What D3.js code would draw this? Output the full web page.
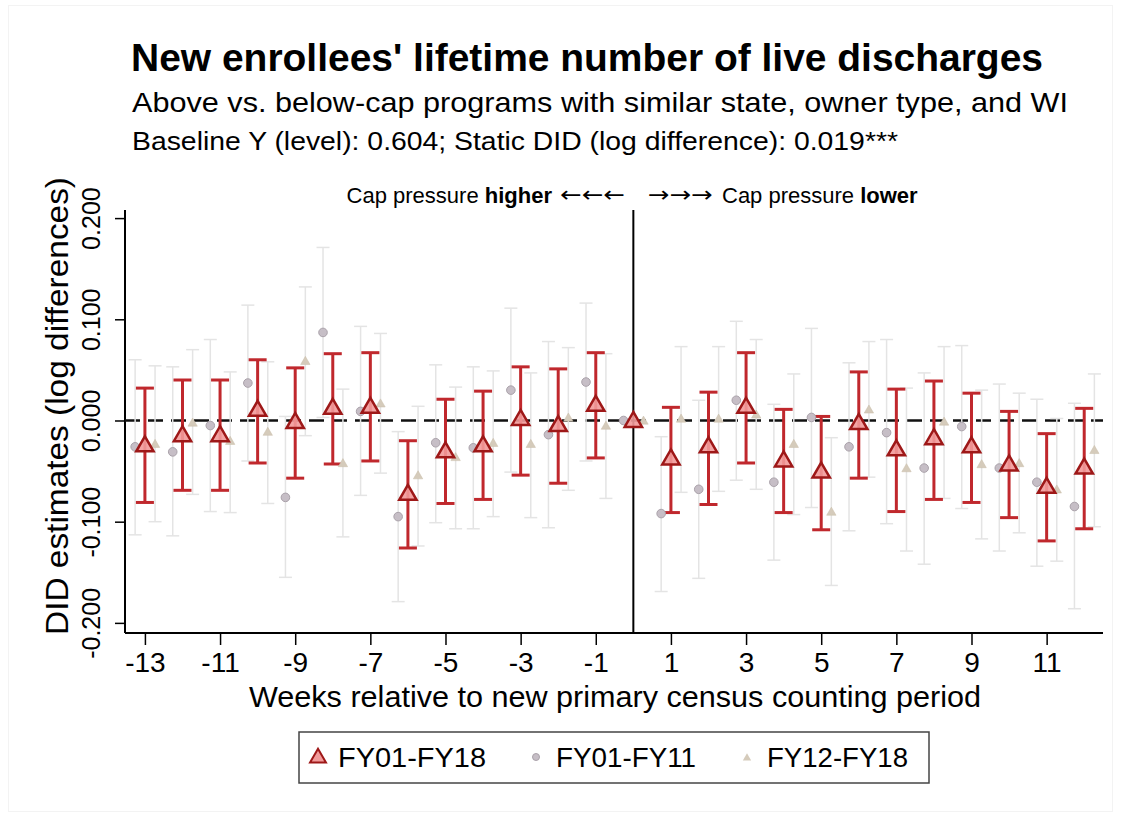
<!DOCTYPE html>
<html lang="en">
<head>
<meta charset="utf-8">
<title>New enrollees' lifetime number of live discharges</title>
<script src="https://cdn.jsdelivr.net/npm/d3@7"></script>
<style>
  body { margin: 0; background: #fff; }
  text { font-family: "Liberation Sans", Arial, Helvetica, sans-serif; fill: #000; }
</style>
</head>
<body>
<script>
// weeks relative to the new counting period (0 = reference week)
var weeks = [-13,-12,-11,-10,-9,-8,-7,-6,-5,-4,-3,-2,-1,0,1,2,3,4,5,6,7,8,9,10,11,12];

// FY01-FY18
var allEst = [-0.024,-0.014,-0.014,0.011,-0.001,0.013,0.014,-0.072,-0.030,-0.024,0.002,-0.004,0.016,0,
  -0.037,-0.025,0.014,-0.039,-0.050,-0.002,-0.028,-0.017,-0.025,-0.043,-0.065,-0.046];
var allLo = [-0.081,-0.069,-0.069,-0.042,-0.057,-0.043,-0.040,-0.126,-0.082,-0.078,-0.054,-0.062,-0.037,0,
  -0.091,-0.083,-0.042,-0.091,-0.108,-0.057,-0.090,-0.078,-0.081,-0.096,-0.119,-0.107];
var allHi = [0.032,0.040,0.040,0.060,0.052,0.066,0.067,-0.020,0.021,0.029,0.053,0.051,0.067,0,
  0.013,0.028,0.067,0.011,0.004,0.048,0.031,0.039,0.027,0.009,-0.013,0.012];

// FY01-FY11
var earlyEst = [-0.026,-0.031,-0.005,0.037,-0.076,0.087,0.009,-0.095,-0.022,-0.027,0.030,-0.014,0.038,0,
  -0.092,-0.068,0.020,-0.061,0.003,-0.026,-0.012,-0.047,-0.006,-0.047,-0.061,-0.085];
var earlyLo = [-0.113,-0.114,-0.090,-0.040,-0.155,0.003,-0.074,-0.179,-0.101,-0.107,-0.051,-0.106,-0.040,0,
  -0.169,-0.156,-0.059,-0.138,-0.086,-0.109,-0.102,-0.142,-0.087,-0.129,-0.144,-0.186];
var earlyHi = [0.060,0.053,0.080,0.114,0.004,0.171,0.093,-0.011,0.055,0.053,0.111,0.078,0.116,0,
  -0.016,0.020,0.098,0.016,0.091,0.057,0.080,0.047,0.074,0.036,0.021,0.017];

// FY12-FY18
var lateEst = [-0.023,-0.002,-0.020,-0.011,0.059,-0.042,0.017,-0.054,-0.036,-0.022,-0.023,0.003,-0.005,0,
  0.002,0.002,0.006,-0.023,-0.090,0.011,-0.047,-0.001,-0.043,-0.042,-0.068,-0.029];
var lateLo = [-0.100,-0.073,-0.091,-0.082,-0.015,-0.115,-0.052,-0.124,-0.107,-0.095,-0.096,-0.069,-0.077,0,
  -0.071,-0.070,-0.068,-0.093,-0.163,-0.056,-0.129,-0.077,-0.117,-0.111,-0.139,-0.105];
var lateHi = [0.054,0.070,0.048,0.058,0.132,0.031,0.086,0.014,0.033,0.049,0.047,0.072,0.066,0,
  0.073,0.073,0.080,0.046,-0.017,0.078,0.032,0.073,0.030,0.027,0.002,0.046];

var xTicks = [-13,-11,-9,-7,-5,-3,-1,1,3,5,7,9,11];
var yTicks = [-0.2,-0.1,0,0.1,0.2];
var legendLabels = ["FY01-FY18","FY01-FY11","FY12-FY18"];

var w = 1121, h = 819;
var svg = d3.select("body").append("svg").attr("width", w).attr("height", h);

// faint outer frame
svg.append("rect").attr("x", 8.5).attr("y", 5.5).attr("width", 1104).attr("height", 806)
  .attr("fill", "none").attr("stroke", "#f3f3f3");

var x = d3.scaleLinear().domain([-13.53, 12.5]).range([125, 1103]);
var y = d3.scaleLinear().domain([-0.21, 0.208]).range([633, 210]);

var fmt = d3.formatLocale({decimal: ".", thousands: ",", grouping: [3], currency: ["", ""], minus: "-"}).format(".3f");

// titles
svg.append("text").attr("x", 131).attr("y", 71).attr("font-size", 39).attr("font-weight", "bold")
  .attr("textLength", 912).attr("lengthAdjust", "spacingAndGlyphs")
  .text("New enrollees' lifetime number of live discharges");
svg.append("text").attr("x", 132).attr("y", 112).attr("font-size", 28.5)
  .attr("textLength", 936).attr("lengthAdjust", "spacingAndGlyphs")
  .text("Above vs. below-cap programs with similar state, owner type, and WI");
svg.append("text").attr("x", 132).attr("y", 150).attr("font-size", 26)
  .attr("textLength", 766).attr("lengthAdjust", "spacingAndGlyphs")
  .text("Baseline Y (level): 0.604; Static DID (log difference): 0.019***");

// annotation above the plot
var left = svg.append("text").attr("x", 552).attr("y", 203).attr("font-size", 22).attr("text-anchor", "end");
left.append("tspan").text("Cap pressure ");
left.append("tspan").attr("font-weight", "bold").text("higher");
svg.append("text").attr("x", 560).attr("y", 202).attr("font-size", 22).style("font-family", "'DejaVu Sans'")
  .attr("textLength", 65).attr("lengthAdjust", "spacingAndGlyphs").text("\u2190\u2190\u2190");
svg.append("text").attr("x", 648).attr("y", 202).attr("font-size", 22).style("font-family", "'DejaVu Sans'")
  .attr("textLength", 65).attr("lengthAdjust", "spacingAndGlyphs").text("\u2192\u2192\u2192");
var right = svg.append("text").attr("x", 722).attr("y", 203).attr("font-size", 22);
right.append("tspan").text("Cap pressure ");
right.append("tspan").attr("font-weight", "bold").text("lower");

// axes
var xAxis = svg.append("g").attr("transform", "translate(0,633)")
  .call(d3.axisBottom(x).tickValues(xTicks).tickSize(12).tickPadding(7).tickFormat(function(d) { return String(d); }));
xAxis.select(".domain").attr("d", "M125,0H1103").attr("stroke-width", 2);
xAxis.selectAll(".tick line").attr("stroke-width", 1.5);
xAxis.selectAll(".tick text").attr("font-size", 28).attr("font-family", null);

var yAxis = svg.append("g").attr("transform", "translate(125,0)")
  .call(d3.axisLeft(y).tickValues(yTicks).tickSize(10).tickFormat(fmt));
yAxis.select(".domain").attr("d", "M0,210V633").attr("stroke-width", 2);
yAxis.selectAll(".tick line").attr("stroke-width", 1.5);
yAxis.selectAll(".tick text").attr("font-size", 25).attr("font-family", null)
  .attr("x", 0).attr("dy", 0).attr("text-anchor", "middle")
  .attr("transform", "translate(-25,0) rotate(-90)");

svg.append("text").attr("transform", "translate(68,406) rotate(-90)").attr("text-anchor", "middle")
  .attr("font-size", 31).attr("textLength", 458).attr("lengthAdjust", "spacingAndGlyphs")
  .text("DID estimates (log differences)");
svg.append("text").attr("x", 615).attr("y", 707).attr("text-anchor", "middle")
  .attr("font-size", 29).attr("textLength", 732).attr("lengthAdjust", "spacingAndGlyphs")
  .text("Weeks relative to new primary census counting period");

// reference lines
svg.append("line").attr("x1", 125).attr("x2", 1103).attr("y1", y(0)).attr("y2", y(0))
  .attr("stroke", "#111").attr("stroke-width", 2.5).attr("stroke-dasharray", "15,8");
svg.append("line").attr("x1", x(0)).attr("x2", x(0)).attr("y1", 210).attr("y2", 633)
  .attr("stroke", "#000").attr("stroke-width", 2);

function rows(est, lo, hi, off) {
  return weeks.map(function(wk, i) { return {w: wk + off, est: est[i], lo: lo[i], hi: hi[i]}; });
}
var early = rows(earlyEst, earlyLo, earlyHi, -0.26);
var late = rows(lateEst, lateLo, lateHi, 0.27);
var all = rows(allEst, allLo, allHi, 0);

function drawCI(data, color, sw, cap) {
  var g = svg.append("g").attr("stroke", color).attr("stroke-width", sw).attr("fill", "none");
  var d = data.filter(function(r) { return r.hi !== r.lo; });
  g.selectAll(".v").data(d).enter().append("line")
    .attr("x1", function(r) { return x(r.w); }).attr("x2", function(r) { return x(r.w); })
    .attr("y1", function(r) { return y(r.lo); }).attr("y2", function(r) { return y(r.hi); });
  ["lo", "hi"].forEach(function(k) {
    g.selectAll(".c" + k).data(d).enter().append("line")
      .attr("x1", function(r) { return x(r.w) - cap; }).attr("x2", function(r) { return x(r.w) + cap; })
      .attr("y1", function(r) { return y(r[k]); }).attr("y2", function(r) { return y(r[k]); });
  });
}
drawCI(early, "#e4e4e4", 1.5, 6.5);
drawCI(late, "#e4e4e4", 1.5, 6.5);
drawCI(all, "#c0282d", 3, 9);

var triBig = d3.symbol().type(d3.symbolTriangle).size(130);
var triSmall = d3.symbol().type(d3.symbolTriangle).size(38);

svg.selectAll(".early").data(early).enter().append("circle")
  .attr("cx", function(r) { return x(r.w); }).attr("cy", function(r) { return y(r.est); })
  .attr("r", 4.3).attr("fill", "#c6bec6").attr("stroke", "#aaa2aa").attr("stroke-width", 1);
svg.selectAll(".late").data(late).enter().append("path")
  .attr("d", triSmall)
  .attr("transform", function(r) { return "translate(" + x(r.w) + "," + (y(r.est) + 1) + ")"; })
  .attr("fill", "#d5cbbb").attr("stroke", "#c8bca8").attr("stroke-width", 0.5);
svg.selectAll(".all").data(all).enter().append("path")
  .attr("d", triBig)
  .attr("transform", function(r) { return "translate(" + x(r.w) + "," + (y(r.est) + 1.5) + ")"; })
  .attr("fill", "#f29a9a").attr("fill-opacity", 0.9).attr("stroke", "#9e1818").attr("stroke-width", 2.5);

// legend
var lg = svg.append("g");
lg.append("rect").attr("x", 299).attr("y", 732).attr("width", 630).attr("height", 51)
  .attr("fill", "#fff").attr("stroke", "#444").attr("stroke-width", 1.5);
lg.append("path").attr("d", d3.symbol().type(d3.symbolTriangle).size(110))
  .attr("transform", "translate(318,758)")
  .attr("fill", "#f29a9a").attr("stroke", "#9e1818").attr("stroke-width", 2);
lg.append("circle").attr("cx", 536).attr("cy", 757).attr("r", 3.5)
  .attr("fill", "#c6bec6").attr("stroke", "#aaa2aa");
lg.append("path").attr("d", d3.symbol().type(d3.symbolTriangle).size(30))
  .attr("transform", "translate(747,758)").attr("fill", "#d5cbbb");
var lx = [338, 556, 767];
legendLabels.forEach(function(t, i) {
  lg.append("text").attr("x", lx[i]).attr("y", 767).attr("font-size", 27.5)
    .attr("textLength", i === 0 ? 148 : (i === 1 ? 140 : 141)).attr("lengthAdjust", "spacingAndGlyphs").text(t);
});
</script>
</body>
</html>
